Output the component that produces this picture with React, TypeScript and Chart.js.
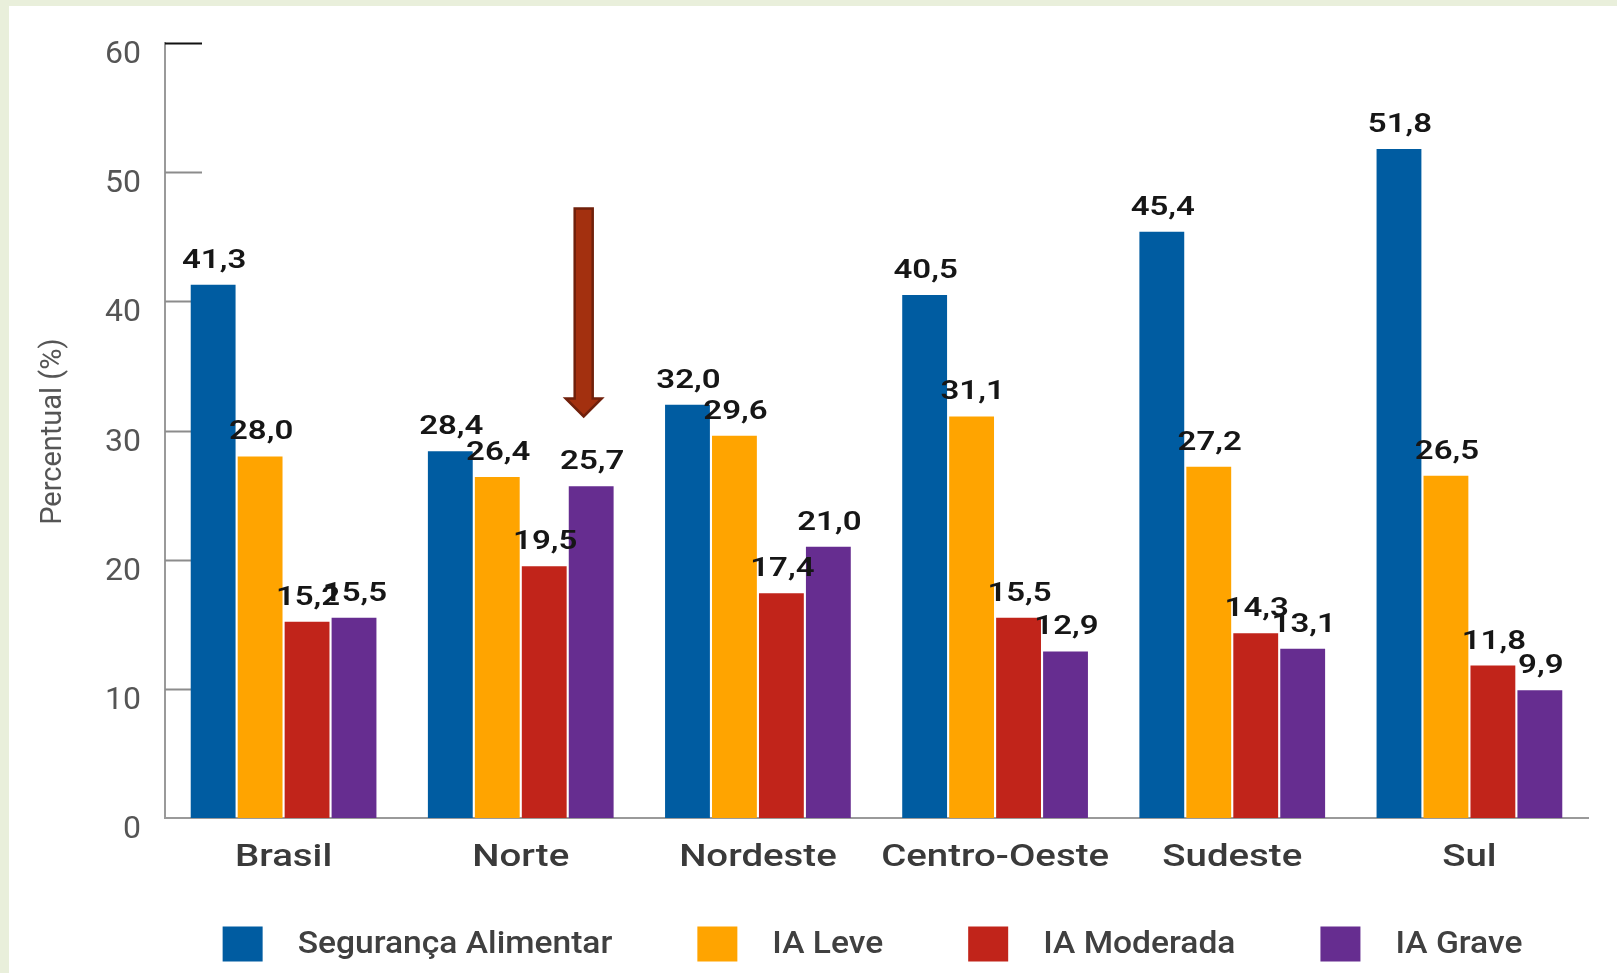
import React, { useEffect, useRef } from "react";
import { Chart, registerables } from "chart.js";

Chart.register(...registerables);

const categories = ["Brasil", "Norte", "Nordeste", "Centro-Oeste", "Sudeste", "Sul"];
const seriesNames = ["Segurança Alimentar", "IA Leve", "IA Moderada", "IA Grave"];
const segurancaAlimentar = [41.3, 28.4, 32.0, 40.5, 45.4, 51.8];
const iaLeve = [28.0, 26.4, 29.6, 31.1, 27.2, 26.5];
const iaModerada = [15.2, 19.5, 17.4, 15.5, 14.3, 11.8];
const iaGrave = [15.5, 25.7, 21.0, 12.9, 13.1, 9.9];
const seriesColors = ["#005ca1", "#ffa400", "#c1241a", "#662d90"];
const yTicks = [0, 10, 20, 30, 40, 50, 60];
const yTitle = "Percentual (%)";

// annotation arrow above "Norte" / "IA Grave"
const arrowCategoryIndex = 1;
const arrowSeriesIndex = 3;
const arrowTopValue = 47.2;
const arrowTipValue = 31.1;

const W = 1617;
const H = 973;

const fmt = (v: number) => v.toFixed(1).replace(".", ",");

// draws text with a horizontal stretch (the reference glyphs are wide)
function stretchedText(ctx: any, text: string, x: number, y: number, sx: number) {
  ctx.save();
  ctx.translate(x, y);
  ctx.scale(sx, 1);
  ctx.fillText(text, 0, 0);
  ctx.restore();
}

const innerTicksPlugin = {
  id: "innerTicks",
  beforeDatasetsDraw(chart: any) {
    const { ctx } = chart;
    const y = chart.scales.y;
    const left = chart.chartArea.left;
    ctx.save();
    yTicks.forEach((v) => {
      const py = Math.round(y.getPixelForValue(v)) + 0.5;
      if (v === 0) return;
      ctx.beginPath();
      ctx.strokeStyle = v === yTicks[yTicks.length - 1] ? "#111111" : "#8c8c8c";
      ctx.lineWidth = 2;
      ctx.moveTo(left, py);
      ctx.lineTo(left + 37, py);
      ctx.stroke();
    });
    ctx.restore();
  },
};

const dataLabelsPlugin = {
  id: "dataLabels",
  afterDatasetsDraw(chart: any) {
    const { ctx } = chart;
    ctx.save();
    ctx.font = "600 26px Roboto";
    ctx.fillStyle = "#161616";
    ctx.textAlign = "center";
    ctx.textBaseline = "alphabetic";
    chart.data.datasets.forEach((ds: any, di: number) => {
      const meta = chart.getDatasetMeta(di);
      meta.data.forEach((bar: any, i: number) => {
        stretchedText(ctx, fmt(ds.data[i]), bar.x + 1, bar.y - 17, 1.27);
      });
    });
    ctx.restore();
  },
};

const xLabelsPlugin = {
  id: "xLabels",
  afterDraw(chart: any) {
    const { ctx, chartArea } = chart;
    const x = chart.scales.x;
    ctx.save();
    ctx.font = "500 32px Roboto";
    ctx.fillStyle = "#3a3a3a";
    ctx.textAlign = "center";
    ctx.textBaseline = "alphabetic";
    chart.data.labels.forEach((lab: string, i: number) => {
      stretchedText(ctx, lab, x.getPixelForTick(i), chartArea.bottom + 48, 1.2);
    });
    ctx.restore();
  },
};

const arrowPlugin = {
  id: "arrow",
  afterDatasetsDraw(chart: any) {
    const { ctx } = chart;
    const y = chart.scales.y;
    const bar = chart.getDatasetMeta(arrowSeriesIndex).data[arrowCategoryIndex];
    const cx = bar.x - 7.5;
    const top = y.getPixelForValue(arrowTopValue);
    const tip = y.getPixelForValue(arrowTipValue);
    const headH = 18;
    const shaftHalf = 9;
    const headHalf = 18;
    ctx.save();
    ctx.beginPath();
    ctx.moveTo(cx - shaftHalf, top);
    ctx.lineTo(cx + shaftHalf, top);
    ctx.lineTo(cx + shaftHalf, tip - headH);
    ctx.lineTo(cx + headHalf, tip - headH);
    ctx.lineTo(cx, tip);
    ctx.lineTo(cx - headHalf, tip - headH);
    ctx.lineTo(cx - shaftHalf, tip - headH);
    ctx.closePath();
    ctx.fillStyle = "#a3300f";
    ctx.fill();
    ctx.lineWidth = 2.5;
    ctx.strokeStyle = "#70200b";
    ctx.lineJoin = "miter";
    ctx.stroke();
    ctx.restore();
  },
};

const titleAndLegendPlugin = {
  id: "titleLegend",
  afterDraw(chart: any) {
    const { ctx, chartArea } = chart;
    ctx.save();
    // y axis title
    ctx.translate(54, (chartArea.top + chartArea.bottom) / 2 + 1);
    ctx.rotate(-Math.PI / 2);
    ctx.font = "400 29px Roboto";
    ctx.fillStyle = "#555555";
    ctx.textAlign = "center";
    ctx.textBaseline = "middle";
    ctx.fillText(yTitle, 0, 0);
    ctx.restore();

    // legend
    ctx.save();
    ctx.font = "500 32px Roboto";
    const sx = 1.05;
    const boxW = 40;
    const boxH = 35;
    const gapBoxText = 35;
    const itemGap = 85;
    const widths = chart.data.datasets.map((d: any) => ctx.measureText(d.label).width * sx);
    const total =
      widths.reduce((a: number, b: number) => a + b, 0) +
      widths.length * (boxW + gapBoxText) +
      (widths.length - 1) * itemGap;
    let x = (chartArea.left + chartArea.right) / 2 - total / 2 - 4;
    const cy = 944;
    chart.data.datasets.forEach((d: any, i: number) => {
      ctx.fillStyle = d.backgroundColor;
      ctx.fillRect(x, cy - boxH / 2, boxW, boxH);
      x += boxW + gapBoxText;
      ctx.fillStyle = "#404040";
      ctx.textAlign = "left";
      ctx.textBaseline = "middle";
      stretchedText(ctx, d.label, x, cy + 1, sx);
      x += widths[i] + itemGap;
    });
    ctx.restore();
  },
};

export default function App() {
  const canvasRef = useRef<HTMLCanvasElement | null>(null);

  useEffect(() => {
    const canvas = canvasRef.current;
    if (!canvas) return;
    const seriesValues = [segurancaAlimentar, iaLeve, iaModerada, iaGrave];
    const chart = new Chart(canvas, {
      type: "bar",
      data: {
        labels: categories,
        datasets: seriesNames.map((name, i) => ({
          label: name,
          data: seriesValues[i],
          backgroundColor: seriesColors[i],
          borderWidth: 0,
          categoryPercentage: 0.792,
          barPercentage: 0.955,
        })),
      },
      options: {
        responsive: false,
        animation: false,
        devicePixelRatio: 1,
        layout: { padding: { left: 0, top: 42, right: 29, bottom: 0 } },
        plugins: {
          legend: { display: false },
          tooltip: { enabled: false },
          title: { display: false },
        },
        scales: {
          x: {
            grid: { display: false, drawTicks: false },
            border: { display: true, color: "#9a9a9a", width: 2 },
            ticks: { display: false, autoSkip: false },
            afterFit(scale: any) {
              scale.height = 155;
            },
          },
          y: {
            min: 0,
            max: 60,
            grid: { display: false, drawTicks: false },
            border: { display: true, color: "#9a9a9a", width: 2 },
            ticks: {
              stepSize: 10,
              padding: 24,
              labelOffset: 12,
              color: "#555555",
              font: { family: "Roboto", size: 32, weight: "400" },
            },
            afterFit(scale: any) {
              scale.width = 165;
            },
          },
        },
      },
      plugins: [innerTicksPlugin, dataLabelsPlugin, arrowPlugin, xLabelsPlugin, titleAndLegendPlugin],
    });
    return () => chart.destroy();
  }, []);

  return (
    <div style={{ position: "fixed", left: 0, top: 0, width: W, height: H, background: "#e9efdb", overflow: "hidden" }}>
      <div style={{ position: "absolute", left: 9, top: 6, right: 0, bottom: 0, background: "#ffffff" }} />
      <canvas
        ref={canvasRef}
        width={W}
        height={H}
        style={{ position: "absolute", left: 0, top: 0, width: W, height: H }}
      />
    </div>
  );
}
